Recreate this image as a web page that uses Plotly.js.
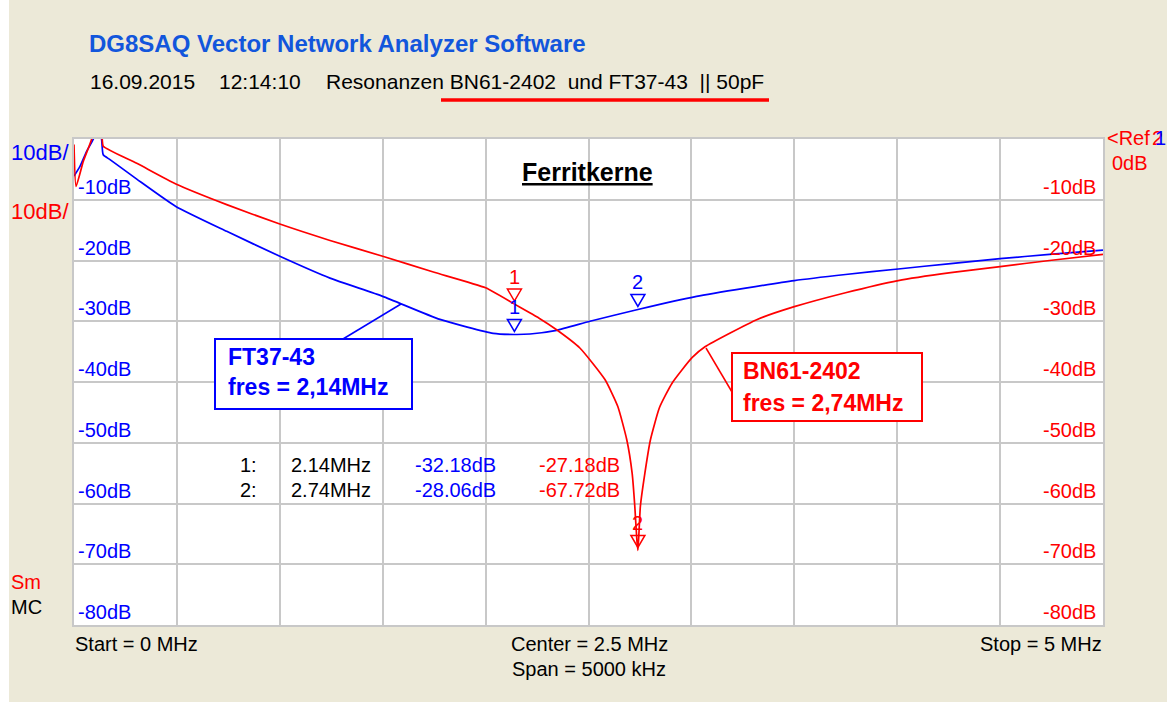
<!DOCTYPE html>
<html>
<head>
<meta charset="utf-8">
<script src="https://cdn.plot.ly/plotly-3.0.1.min.js"></script>
<style>
html,body{margin:0;padding:0;background:#ECE9D8;}
#chart{width:1167px;height:702px;}
</style>
</head>
<body>
<div id="chart"></div>
<script>
// ---- data ----
const redFreq = [0, 0.01, 0.045, 0.086, 0.11, 0.137, 0.142, 0.305, 0.495, 0.742, 1.0, 1.244, 1.5, 1.746, 2.0, 2.14, 2.26, 2.345, 2.458, 2.58, 2.642, 2.686, 2.712, 2.725, 2.735, 2.74, 2.745, 2.752, 2.774, 2.801, 2.845, 2.906, 3.003, 3.066, 3.32, 3.5, 3.749, 4.005, 4.26, 4.5, 4.74, 5.0];
const redDb   = [-0.9, -7.8, -3.7, 0, 4, 0, -1.2, -4.0, -7.4, -10.8, -14.0, -16.7, -19.3, -21.9, -24.5, -27.18, -29.5, -31.4, -34.4, -39.6, -44, -49.5, -55, -60.5, -66, -67.72, -65, -60.5, -55, -49.5, -44.2, -40.2, -36.0, -34.2, -29.7, -27.6, -25.3, -23.3, -22.0, -21.0, -20.0, -19.0];
const blueFreq = [0, 0.029, 0.062, 0.094, 0.115, 0.134, 0.142, 0.175, 0.305, 0.495, 0.742, 1.0, 1.244, 1.5, 1.778, 2.037, 2.14, 2.216, 2.345, 2.507, 2.74, 3.025, 3.5, 3.749, 4.005, 4.26, 4.5, 4.74, 5.0];
const blueDb   = [-6.1, -4.5, -2.0, 0, 3, 0, -2.6, -3.4, -6.6, -11.1, -15.2, -19.3, -22.9, -25.9, -29.7, -32.0, -32.18, -32.1, -31.5, -30.0, -28.06, -25.9, -23.3, -22.3, -21.4, -20.5, -19.7, -19.0, -18.3];
const markerNames = ['1', '2'];
const markerFreq  = [2.14, 2.74];
const markerBlue  = [-32.18, -28.06];
const markerRed   = [-27.18, -67.72];
const yTicks = [-10, -20, -30, -40, -50, -60, -70, -80];
const blueName = 'FT37-43';
const redName  = 'BN61-2402';

// ---- layout helpers (pixel -> paper) ----
const L = 74, R = 1103, T = 139, B = 625;
const px = p => (p - L) / (R - L);
const py = p => (B - p) / (B - T);
const FONT = 'Liberation Sans, Arial, sans-serif';
const BLUE = '#0000FF', RED = '#FF0000';

function txt(text, x, y, size, color, xanchor, extra) {
  return Object.assign({
    text: text, xref: 'paper', yref: 'paper', x: px(x), y: py(y),
    xanchor: xanchor || 'left', yanchor: 'middle', showarrow: false,
    font: {family: FONT, size: size, color: color}
  }, extra || {});
}

const annotations = [];
annotations.push(txt('<b>DG8SAQ Vector Network Analyzer Software</b>', 87, 43, 24, '#1256DC'));
annotations.push(txt('16.09.2015', 88, 82, 21, '#000'));
annotations.push(txt('12:14:10', 217, 82, 21, '#000'));
annotations.push(txt('Resonanzen ' + redName + '\u00a0\u00a0und ' + blueName + '\u00a0\u00a0||\u00a050pF', 324, 82, 21, '#000'));
annotations.push(txt('<u><b>Ferritkerne</b></u>', 587, 172, 25, '#000', 'center'));
annotations.push(txt('10dB/', 9, 152, 22, BLUE));
annotations.push(txt('10dB/', 9, 211, 22, RED));
annotations.push(txt('Sm', 9, 582, 20, RED));
annotations.push(txt('MC', 9, 607, 20, '#000'));
annotations.push(txt('<Ref', 1105, 138, 20, RED));
annotations.push(txt('2', 1150, 138, 20, RED));
annotations.push(txt('1', 1153, 138, 20, BLUE));
annotations.push(txt('0dB', 1110, 163, 20, RED));
annotations.push(txt('Start = 0 MHz', 73, 644, 20, '#000'));
annotations.push(txt('Center = 2.5 MHz', 589, 644, 20, '#000', 'center'));
annotations.push(txt('Span = 5000 kHz', 589, 669, 20, '#000', 'center'));
annotations.push(txt('Stop = 5 MHz', 1104, 644, 20, '#000', 'right'));

// inner axis labels
yTicks.forEach(v => {
  annotations.push({text: v + 'dB', xref: 'paper', yref: 'y', x: 0, y: v, xshift: 2,
    xanchor: 'left', yanchor: 'middle', yshift: 13, showarrow: false,
    font: {family: FONT, size: 20, color: BLUE}});
  annotations.push({text: v + 'dB', xref: 'paper', yref: 'y', x: 1, y: v, xshift: -5,
    xanchor: 'right', yanchor: 'middle', yshift: 13, showarrow: false,
    font: {family: FONT, size: 20, color: RED}});
});

// marker table
markerNames.forEach((m, i) => {
  const yy = 465 + i * 25;
  annotations.push(txt(m + ':', 259, yy, 20, '#000', 'right'));
  annotations.push(txt(markerFreq[i].toFixed(2) + 'MHz', 289, yy, 20, '#000'));
  annotations.push(txt(markerBlue[i].toFixed(2) + 'dB', 498, yy, 20, BLUE, 'right'));
  annotations.push(txt(markerRed[i].toFixed(2) + 'dB', 622, yy, 20, RED, 'right'));
});

// marker numbers on curves
markerNames.forEach((m, i) => {
  annotations.push({text: m, xref: 'x', yref: 'y', x: markerFreq[i], y: markerBlue[i], yshift: 27,
    showarrow: false, xanchor: 'center', yanchor: 'middle', font: {family: FONT, size: 20, color: BLUE}});
  annotations.push({text: m, xref: 'x', yref: 'y', x: markerFreq[i], y: markerRed[i], yshift: 27,
    showarrow: false, xanchor: 'center', yanchor: 'middle', font: {family: FONT, size: 20, color: RED}});
});

// callout texts
annotations.push(txt('<b>' + blueName + '</b>', 226, 357, 23, BLUE));
annotations.push(txt('<b>fres = ' + markerFreq[0].toFixed(2).replace('.', ',') + 'MHz</b>', 226, 387, 23, BLUE));
annotations.push(txt('<b>' + redName + '</b>', 741, 371, 23, RED));
annotations.push(txt('<b>fres = ' + markerFreq[1].toFixed(2).replace('.', ',') + 'MHz</b>', 741, 403, 23, RED));

const shapes = [];
// left white strip of the window
shapes.push({type: 'rect', xref: 'paper', yref: 'paper', x0: px(0), x1: px(9), y0: py(702), y1: py(0),
  fillcolor: '#FFFFFF', line: {width: 0}, layer: 'below'});
// red underline under title
shapes.push({type: 'line', xref: 'paper', yref: 'paper', x0: px(441), x1: px(769), y0: py(100), y1: py(100),
  line: {color: RED, width: 3.5}});
// callout boxes
shapes.push({type: 'rect', xref: 'paper', yref: 'paper', x0: px(215), x1: px(412), y0: py(409), y1: py(339),
  fillcolor: '#FFFFFF', line: {color: BLUE, width: 2}});
shapes.push({type: 'rect', xref: 'paper', yref: 'paper', x0: px(732), x1: px(922), y0: py(421), y1: py(353),
  fillcolor: '#FFFFFF', line: {color: RED, width: 2}});
// leaders
shapes.push({type: 'line', xref: 'paper', yref: 'paper', x0: px(343), y0: py(339), x1: px(401), y1: py(304),
  line: {color: BLUE, width: 1.5}});
shapes.push({type: 'line', xref: 'paper', yref: 'paper', x0: px(732), y0: py(392), x1: px(706), y1: py(348),
  line: {color: RED, width: 1.5}});
// marker triangles (apex just above curve point)
function tri(f, v, color) {
  return {type: 'path', xref: 'x', yref: 'y', xsizemode: 'pixel', ysizemode: 'pixel',
    xanchor: f, yanchor: v, path: 'M -7 15 L 7 15 L 0 3 Z', line: {color: color, width: 1.5}};
}
markerNames.forEach((m, i) => {
  shapes.push(tri(markerFreq[i], markerBlue[i], BLUE));
  shapes.push(tri(markerFreq[i], markerRed[i], RED));
});

const traces = [
  {x: blueFreq, y: blueDb, type: 'scatter', mode: 'lines', line: {color: BLUE, width: 1.7, shape: 'spline', smoothing: 0.5}, hoverinfo: 'skip'},
  {x: redFreq, y: redDb, type: 'scatter', mode: 'lines', line: {color: RED, width: 1.7, shape: 'spline', smoothing: 0.5}, hoverinfo: 'skip'}
];

const layout = {
  width: 1167, height: 702,
  margin: {l: L, r: 1167 - R, t: T, b: 702 - B, pad: 0},
  paper_bgcolor: '#ECE9D8', plot_bgcolor: '#FFFFFF',
  showlegend: false,
  xaxis: {range: [0, 5], dtick: 0.5, tick0: 0, showticklabels: false, ticks: '',
    showgrid: true, gridcolor: '#C8C8C8', gridwidth: 2, zeroline: false,
    showline: true, mirror: true, linecolor: '#C8C8C8', linewidth: 2, fixedrange: true},
  yaxis: {range: [-80, 0], dtick: 10, tick0: 0, showticklabels: false, ticks: '',
    showgrid: true, gridcolor: '#C8C8C8', gridwidth: 2, zeroline: false,
    showline: true, mirror: true, linecolor: '#C8C8C8', linewidth: 2, fixedrange: true},
  annotations: annotations,
  shapes: shapes,
  font: {family: FONT}
};

Plotly.newPlot('chart', traces, layout, {displayModeBar: false, staticPlot: true});
</script>
</body>
</html>
